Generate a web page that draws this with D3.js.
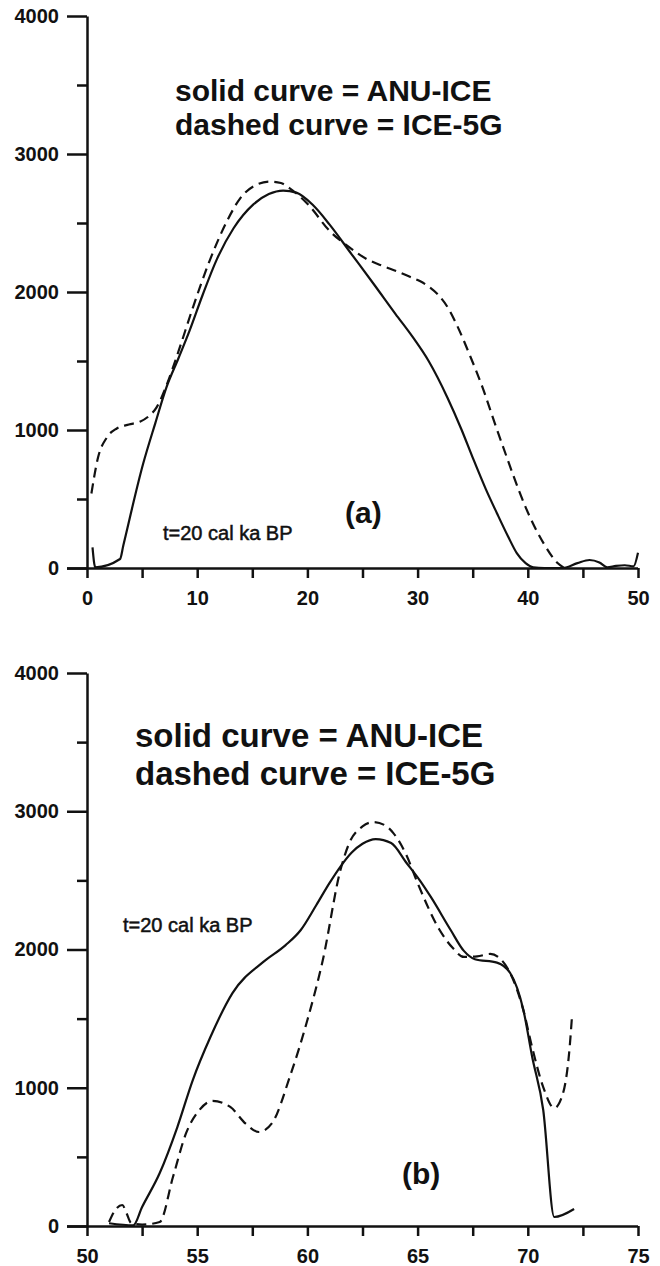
<!DOCTYPE html>
<html>
<head>
<meta charset="utf-8">
<script src="https://cdn.jsdelivr.net/npm/d3@7"></script>
<style>
    body { margin: 0; background: #fff; }
    svg text { font-family: "Liberation Sans", Arial, sans-serif; fill: #111; }
</style>
</head>
<body>
<div id="chart"></div>
<script>
// panel (a): distance 0-50, panel (b): distance 50-75, values 0-4000
const yTicks = [0, 1000, 2000, 3000, 4000];
const yMinorTicks = [500, 1500, 2500, 3500];
const xTicksA = [0, 5, 10, 15, 20, 25, 30, 35, 40, 45, 50];
const xTicksB = [50, 52.5, 55, 57.5, 60, 62.5, 65, 67.5, 70, 72.5, 75];

const solidA_x = [0.5, 0.75, 3.0, 3.3, 5.1, 6.2, 7.2, 8.3, 9.3, 10.5, 11.8, 13.3, 15.1, 16.5, 17.8, 19.0, 20.5, 22.0, 24.0, 26.0, 28.0, 29.5, 31.0, 32.7, 34.0, 35.0, 36.2, 37.2, 38.2, 39.0, 39.8, 40.5, 41.5, 43.2, 44.5, 45.6, 46.5, 47.2, 48.0, 48.8, 49.6, 50.0];
const solidA_y = [150, 5, 65, 165, 757, 1050, 1307, 1520, 1718, 1980, 2240, 2462, 2635, 2710, 2735, 2720, 2630, 2490, 2275, 2060, 1840, 1680, 1500, 1236, 1000, 800, 570, 397, 230, 108, 35, 5, 0, 0, 35, 58, 40, 5, 15, 20, 12, 110];

const dashedA_x = [0.4, 1.0, 1.8, 2.7, 3.8, 4.8, 5.6, 6.3, 7.2, 8.3, 9.6, 11.0, 12.7, 13.9, 15.2, 16.6, 17.6, 18.4, 20.0, 22.05, 23.9, 25.4, 26.8, 28.1, 29.3, 30.2, 31.0, 31.8, 32.8, 33.6, 34.8, 35.9, 37.0, 38.1, 39.2, 40.2, 41.5, 42.7, 43.3];
const dashedA_y = [540, 800, 946, 1011, 1040, 1060, 1100, 1162, 1321, 1570, 1885, 2200, 2513, 2679, 2770, 2800, 2790, 2751, 2640, 2440, 2318, 2238, 2190, 2151, 2110, 2079, 2040, 1985, 1880, 1754, 1530, 1307, 1050, 801, 560, 368, 170, 36, 0];

const solidB_x = [51.0, 52.1, 52.5, 53.3, 54.1, 54.8, 55.6, 56.6, 58.0, 59.0, 59.7, 60.4, 61.0, 61.5, 62.0, 62.5, 63.1, 63.8, 64.5, 65.1, 65.6, 66.5, 67.1, 67.6, 68.6, 69.2, 69.8, 70.2, 70.7, 71.2, 72.1];
const solidB_y = [20, 5, 137, 383, 716, 1056, 1367, 1685, 1910, 2030, 2141, 2320, 2480, 2600, 2700, 2765, 2799, 2770, 2626, 2500, 2380, 2141, 1990, 1930, 1905, 1830, 1562, 1222, 839, 65, 123];

const dashedB_x = [51.0, 51.3, 51.6, 51.8, 52.0, 52.5, 53.3, 53.9, 54.5, 55.1, 55.7, 56.5, 57.2, 57.8, 58.4, 59.2, 60.0, 60.7, 61.5, 61.9, 62.5, 63.0, 63.5, 63.9, 64.5, 65.0, 66.0, 66.6, 67.1, 67.7, 68.3, 68.7, 69.2, 69.8, 70.2, 70.7, 71.2, 71.6, 71.9, 72.0];
const dashedB_y = [29, 120, 152, 90, 22, 10, 29, 354, 673, 839, 905, 861, 740, 680, 745, 1078, 1490, 1924, 2575, 2770, 2890, 2922, 2900, 2842, 2680, 2481, 2141, 2010, 1946, 1950, 1968, 1940, 1830, 1560, 1290, 1005, 853, 962, 1295, 1505];

const legendLines = ["solid curve = ANU-ICE", "dashed curve = ICE-5G"];
const timeLabel = "t=20 cal ka BP";

const svg = d3.select("#chart")
    .append("svg")
    .attr("width", 660)
    .attr("height", 1266);

function drawPanel(cfg) {
    const g = svg.append("g");

    const x = d3.scaleLinear().domain(cfg.xDomain).range([87, 638]);
    const y = d3.scaleLinear().domain([0, 4000]).range([cfg.y0, cfg.y4000]);

    // x axis (ticks down, labels every other tick)
    const xAxis = g.append("g")
        .attr("transform", `translate(0,${cfg.y0})`)
        .call(d3.axisBottom(x)
            .tickValues(cfg.xTicks)
            .tickSize(10)
            .tickSizeOuter(0)
            .tickPadding(13)
            .tickFormat((d, i) => i % 2 === 0 ? d3.format("d")(d) : ""));

    // major y ticks
    const yAxis = g.append("g")
        .attr("transform", "translate(87,0)")
        .call(d3.axisLeft(y)
            .tickValues(yTicks)
            .tickSize(20)
            .tickSizeOuter(0)
            .tickPadding(8)
            .tickFormat(d3.format("d")));

    // minor y ticks
    const yMinor = g.append("g")
        .attr("transform", "translate(87,0)")
        .call(d3.axisLeft(y)
            .tickValues(yMinorTicks)
            .tickSize(10)
            .tickSizeOuter(0)
            .tickFormat(""));
    yMinor.select(".domain").remove();

    [xAxis, yAxis, yMinor].forEach(a => {
        a.selectAll("path, line").attr("stroke", "#111").attr("stroke-width", 2.5);
        a.selectAll("text")
            .attr("font-size", "20px")
            .attr("font-weight", "bold")
            .attr("fill", "#111")
            .style("font-family", "'Liberation Sans', Arial, sans-serif");
    });

    // extend x axis line to the end of the 0 tick on the y axis
    xAxis.select(".domain").attr("d", `M${67},0.5H638`);

    const line = d3.line()
        .x(d => x(d[0]))
        .y(d => y(d[1]))
        .curve(d3.curveMonotoneX);

    g.append("path")
        .datum(d3.zip(cfg.solidX, cfg.solidY))
        .attr("fill", "none")
        .attr("stroke", "#111")
        .attr("stroke-width", 2.2)
        .attr("d", line);

    g.append("path")
        .datum(d3.zip(cfg.dashedX, cfg.dashedY))
        .attr("fill", "none")
        .attr("stroke", "#111")
        .attr("stroke-width", 2.2)
        .attr("stroke-dasharray", "10,6")
        .attr("d", line);

    // legend
    g.selectAll(".legend-line")
        .data(legendLines)
        .enter()
        .append("text")
        .attr("class", "legend-line")
        .attr("x", cfg.legendX)
        .attr("y", (d, i) => cfg.legendY + i * cfg.legendGap)
        .attr("font-size", cfg.legendSize + "px")
        .attr("font-weight", "bold")
        .text(d => d);

    g.append("text")
        .attr("x", cfg.timeX)
        .attr("y", cfg.timeY)
        .attr("font-size", "20px")
        .attr("stroke", "#111")
        .attr("stroke-width", 0.5)
        .text(timeLabel);

    g.append("text")
        .attr("x", cfg.tagX)
        .attr("y", cfg.tagY)
        .attr("font-size", "30px")
        .attr("font-weight", "bold")
        .text(cfg.tag);
}

drawPanel({
    xDomain: [0, 50], xTicks: xTicksA, y0: 568, y4000: 16,
    solidX: solidA_x, solidY: solidA_y, dashedX: dashedA_x, dashedY: dashedA_y,
    legendX: 175, legendY: 101, legendGap: 34, legendSize: 30,
    timeX: 163, timeY: 540, tag: "(a)", tagX: 345, tagY: 523
});

drawPanel({
    xDomain: [50, 75], xTicks: xTicksB, y0: 1226, y4000: 673,
    solidX: solidB_x, solidY: solidB_y, dashedX: dashedB_x, dashedY: dashedB_y,
    legendX: 135, legendY: 747, legendGap: 38, legendSize: 33,
    timeX: 123, timeY: 932, tag: "(b)", tagX: 402, tagY: 1184
});
</script>
</body>
</html>
